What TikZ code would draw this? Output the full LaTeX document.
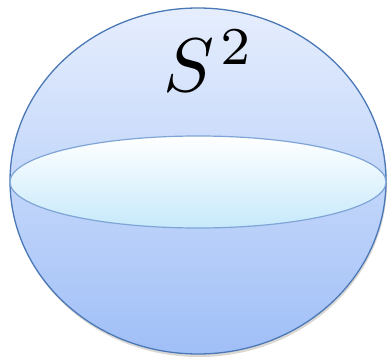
\documentclass[tikz,border=0pt]{standalone}
\usetikzlibrary{shadings}
\definecolor{sphtop}{HTML}{E6EEFD}
\definecolor{sphbot}{HTML}{A0BFF7}
\definecolor{sphline}{HTML}{4B78B6}
\definecolor{eqtop}{HTML}{FFFFFF}
\definecolor{eqbot}{HTML}{C6E9FB}
\definecolor{eqline}{HTML}{7FA5D6}
\definecolor{shadowc}{HTML}{B8B0A8}
\tikzset{
  sphere/.style={top color=sphtop, bottom color=sphbot, draw=sphline, line width=1.3pt},
  equator/.style={top color=eqtop, bottom color=eqbot, draw=eqline, line width=1.2pt},
  label/.style={inner sep=0pt, scale=7.6}
}
\begin{document}
\begin{tikzpicture}[x=1pt,y=-1pt]
\useasboundingbox (0,0) rectangle (388,358);
\fill[shadowc, opacity=0.5] (199,183) ellipse [x radius=188, y radius=174];
\shade[sphere] (198,181) ellipse [x radius=188, y radius=173];
\shade[equator] (198,182) ellipse [x radius=188, y radius=46];
\node[label] (s2) at (209,61) {$S^{\kern0.8pt 2}$};
\end{tikzpicture}
\end{document}
